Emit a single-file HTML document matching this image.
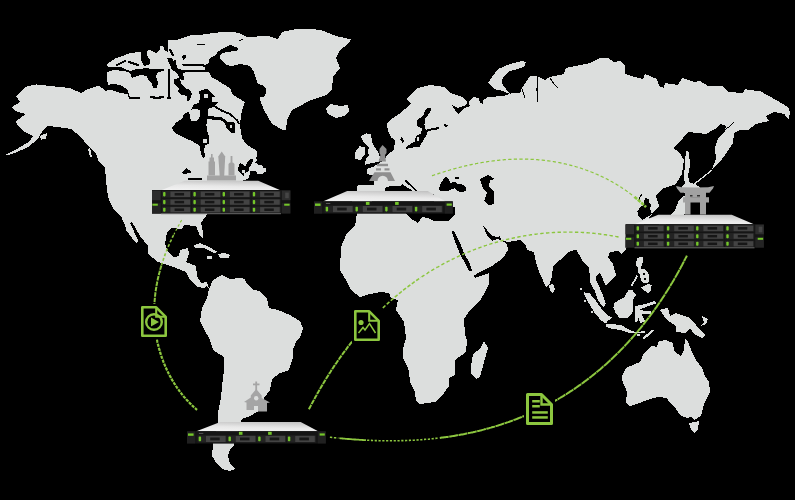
<!DOCTYPE html>
<html><head><meta charset="utf-8"><title>map</title>
<style>
html,body{margin:0;padding:0;background:#000;}
body{width:795px;height:500px;overflow:hidden;font-family:"Liberation Sans",sans-serif;}
svg{display:block;}
</style></head><body>
<svg width="795" height="500" viewBox="0 0 795 500" shape-rendering="crispEdges">
<rect width="795" height="500" fill="#000"/>
<path d="M25.0 87.0 L36.0 84.4 L60.0 87.0 L70.0 88.0 L81.0 93.0 L88.0 89.0 L99.0 85.6 L106.0 91.0 L108.0 89.0 L107.0 74.0 L107.0 64.0 L115.0 58.6 L125.0 55.0 L130.0 53.0 L140.0 52.0 L146.0 51.0 L150.0 50.0 L156.0 53.0 L160.0 50.0 L160.4 46.0 L163.4 46.0 L164.0 50.0 L168.0 52.0 L168.4 40.0 L178.0 39.5 L185.0 37.0 L190.0 35.5 L200.0 35.0 L210.0 33.5 L222.0 32.0 L234.4 32.0 L240.4 33.5 L245.5 36.0 L243.0 42.0 L238.4 48.0 L230.4 45.0 L224.3 47.6 L218.3 51.6 L214.3 56.0 L209.2 58.7 L208.7 63.0 L205.7 65.0 L205.2 70.0 L209.7 73.0 L211.2 77.0 L217.3 80.0 L220.0 82.0 L230.0 88.0 L233.0 95.0 L245.0 102.0 L242.0 110.0 L240.0 123.0 L240.0 126.0 L242.0 138.0 L247.0 145.0 L254.0 149.0 L257.0 152.0 L257.0 156.0 L255.0 158.0 L257.5 160.0 L255.0 162.5 L258.0 164.5 L262.0 165.0 L263.0 167.5 L266.0 168.5 L266.5 171.0 L263.0 173.5 L257.0 173.5 L256.0 171.5 L250.0 171.0 L249.5 175.0 L248.5 178.5 L244.0 180.0 L230.0 185.0 L215.0 200.0 L206.0 216.0 L201.0 223.0 L203.0 232.0 L203.0 239.0 L200.0 236.0 L196.0 226.0 L184.0 225.0 L182.0 229.0 L172.0 228.0 L167.0 232.0 L165.0 244.0 L168.0 252.0 L174.0 257.0 L179.0 256.0 L180.0 250.0 L188.0 248.0 L189.0 254.0 L186.0 262.0 L196.0 266.0 L197.0 276.0 L201.0 283.0 L207.0 282.0 L209.0 289.0 L207.0 286.0 L204.0 288.0 L198.0 287.0 L190.0 280.0 L186.0 272.0 L176.0 268.0 L162.0 263.0 L158.0 262.0 L148.0 254.0 L148.0 246.0 L140.0 236.0 L132.0 222.0 L130.0 223.0 L138.0 240.0 L137.0 244.0 L132.0 238.0 L126.0 230.0 L126.0 228.0 L121.0 216.0 L114.0 210.0 L109.0 200.0 L107.0 190.0 L106.0 180.0 L105.0 168.0 L99.0 162.0 L96.0 154.0 L88.0 146.0 L80.0 136.0 L71.0 129.0 L58.0 127.0 L47.0 126.0 L43.0 130.0 L38.0 139.0 L28.0 147.0 L15.0 153.0 L6.0 155.6 L5.0 155.0 L17.0 149.0 L30.0 141.0 L33.0 136.0 L25.0 132.0 L17.0 125.0 L16.0 121.0 L26.0 114.0 L15.0 111.0 L12.0 107.0 L20.0 102.0 L16.0 96.0Z M40.0 136.0 L47.0 133.0 L46.0 139.0 L41.0 139.6Z M88.0 149.0 L90.0 148.0 L92.0 157.0 L90.0 157.0Z M247.0 37.0 L268.0 36.0 L278.0 39.0 L282.0 32.0 L296.0 29.0 L320.0 29.6 L336.0 36.0 L351.0 39.4 L348.0 44.0 L340.0 50.0 L336.0 58.0 L340.0 68.0 L333.0 77.0 L332.0 89.0 L326.0 95.0 L309.0 101.0 L300.0 106.0 L292.0 110.0 L287.0 120.0 L286.0 130.0 L283.0 130.0 L272.0 124.0 L264.0 110.0 L260.0 100.0 L260.0 97.0 L264.0 96.5 L266.5 93.0 L266.0 88.0 L262.0 85.0 L258.0 84.0 L254.0 72.0 L250.0 66.0 L240.4 64.0 L232.4 66.0 L226.3 65.0 L220.3 59.0 L219.8 55.6 L222.3 53.0 L230.4 51.6 L237.4 50.6 L238.4 48.0 L243.0 42.0 L245.5 36.0Z M326.0 108.0 L330.0 104.0 L340.0 106.0 L348.0 105.0 L349.0 111.0 L344.0 116.0 L336.0 118.0 L328.0 114.0Z M209.0 289.0 L213.0 280.0 L222.0 275.0 L230.0 279.0 L240.0 278.0 L245.0 279.0 L246.0 283.0 L254.0 290.0 L260.0 291.0 L267.0 299.0 L269.0 308.0 L278.0 310.0 L290.0 315.0 L300.0 321.0 L303.0 328.0 L300.0 338.0 L297.0 340.0 L293.0 349.0 L293.0 358.0 L289.0 370.0 L280.0 373.0 L272.0 379.0 L270.0 390.0 L264.0 398.0 L262.0 409.0 L250.0 416.0 L242.0 419.0 L241.0 422.0 L234.0 445.0 L230.0 449.0 L228.0 456.0 L230.0 464.0 L235.0 469.0 L230.0 471.0 L222.0 469.0 L217.0 464.0 L212.0 456.0 L213.0 445.0 L218.0 422.0 L218.0 412.0 L221.0 398.0 L222.0 386.0 L224.0 370.0 L224.0 357.0 L213.0 350.0 L210.0 340.0 L209.0 338.0 L204.0 329.0 L200.0 321.0 L202.0 308.0 L207.0 298.0Z M193.0 246.0 L200.0 243.0 L209.0 247.0 L218.0 252.0 L214.0 253.0 L204.0 248.0 L195.0 248.0Z M218.0 254.0 L224.0 253.0 L230.0 255.0 L229.0 258.0 L220.0 258.0Z M207.0 256.0 L212.0 256.0 L212.0 259.0 L207.0 259.0Z M357.0 213.0 L406.0 213.0 L410.0 218.0 L418.0 223.0 L422.0 217.0 L428.0 218.0 L434.0 221.0 L448.0 221.0 L454.0 215.0 L460.0 213.0 L470.0 240.0 L475.0 278.0 L489.0 272.0 L489.0 284.0 L484.0 294.0 L479.0 302.0 L470.0 310.0 L464.0 319.0 L465.0 334.0 L467.0 340.0 L466.0 352.0 L455.0 360.0 L455.0 375.0 L449.0 378.0 L449.0 386.0 L444.0 393.0 L435.0 402.0 L420.0 404.0 L416.0 401.0 L415.0 392.0 L410.0 382.0 L409.0 372.0 L408.0 368.0 L403.0 358.0 L403.0 349.0 L406.0 338.0 L404.0 322.0 L396.0 310.0 L398.0 300.0 L391.0 298.0 L389.0 293.0 L381.0 292.0 L370.0 294.0 L360.0 297.0 L351.0 290.0 L346.0 280.0 L340.0 270.0 L341.0 247.0 L347.0 233.0 L355.0 226.0Z M484.0 341.0 L488.0 348.0 L484.0 362.0 L480.0 377.0 L476.0 379.0 L471.0 374.0 L471.0 366.0 L473.0 354.0 L480.0 349.0Z M387.0 124.0 L390.0 120.0 L399.0 114.0 L411.0 104.0 L407.0 99.0 L410.0 95.0 L418.0 88.0 L430.0 85.0 L444.0 87.0 L450.0 93.0 L462.0 97.0 L468.0 103.0 L473.0 97.0 L479.0 98.0 L481.0 102.0 L488.0 97.0 L504.0 96.0 L512.0 93.0 L520.0 93.0 L522.0 88.0 L530.0 76.0 L534.0 76.0 L539.0 77.0 L545.0 80.0 L550.0 77.0 L554.0 76.0 L564.0 74.0 L566.0 68.0 L590.0 63.0 L600.0 58.0 L608.0 58.0 L614.0 62.0 L620.0 61.0 L625.0 65.0 L625.0 74.0 L635.0 77.0 L643.0 79.0 L645.0 74.0 L657.0 79.0 L659.0 86.0 L664.0 88.0 L665.0 83.0 L678.0 85.0 L682.0 78.0 L694.0 82.0 L700.0 81.0 L708.0 86.0 L722.0 86.0 L729.0 92.0 L743.0 93.0 L745.0 89.0 L748.0 90.0 L760.0 91.0 L769.0 96.0 L776.0 100.0 L788.0 107.0 L790.0 112.0 L789.0 119.0 L786.0 117.0 L785.0 114.0 L774.0 112.0 L766.0 116.0 L769.0 121.0 L756.0 124.0 L748.0 130.0 L740.0 130.0 L734.0 133.0 L733.0 143.0 L727.0 152.0 L720.0 162.0 L712.0 169.0 L716.0 159.0 L715.0 148.0 L718.0 138.0 L725.0 131.0 L726.0 126.0 L721.0 124.0 L715.0 129.0 L706.0 134.0 L688.0 132.0 L679.0 143.0 L673.0 148.0 L679.0 152.0 L684.0 160.0 L682.0 174.0 L676.0 184.0 L662.0 189.0 L656.0 196.0 L659.0 206.0 L652.0 214.0 L640.0 230.0 L626.0 249.0 L622.0 254.0 L618.0 251.0 L610.0 252.0 L608.0 257.0 L613.0 264.0 L616.0 275.0 L606.0 286.0 L600.0 273.0 L596.0 276.0 L595.8 280.0 L599.7 287.8 L603.0 295.6 L605.6 303.4 L605.0 306.0 L603.0 306.7 L601.0 304.7 L597.0 298.0 L594.5 290.4 L590.6 284.0 L589.0 268.0 L582.0 260.0 L576.0 249.0 L575.0 250.0 L568.0 252.0 L560.0 260.0 L553.0 266.0 L552.0 276.0 L550.0 283.0 L546.0 287.0 L540.0 274.0 L536.0 262.0 L534.0 252.0 L527.0 250.0 L526.0 245.0 L520.0 240.0 L508.0 242.0 L501.0 240.0 L507.0 244.0 L508.0 250.0 L503.0 258.0 L492.0 266.0 L480.0 272.0 L473.0 276.0 L470.0 270.0 L466.0 262.0 L462.0 253.0 L458.0 243.0 L454.0 232.0 L453.0 225.0 L455.0 216.0 L455.0 207.0 L440.0 206.0 L432.0 200.0 L425.0 196.0 L420.0 193.0 L416.0 193.0 L410.0 189.0 L405.0 186.0 L402.0 184.0 L400.0 186.0 L392.0 186.0 L386.0 187.0 L385.0 190.0 L380.0 196.0 L376.0 200.0 L366.0 204.0 L356.0 206.0 L350.0 200.0 L352.0 195.0 L357.0 191.0 L357.6 185.0 L374.4 184.5 L374.4 178.0 L373.0 175.4 L367.4 174.0 L366.7 169.0 L373.0 167.0 L378.0 164.0 L384.0 160.0 L388.0 154.0 L394.0 150.0 L395.0 140.0 L390.8 137.0 L387.8 131.0Z M506.0 89.0 L501.5 83.0 L503.0 77.0 L509.0 71.5 L524.0 67.0 L526.0 62.0 L522.0 61.0 L510.0 64.0 L498.0 69.0 L492.0 77.0 L488.0 83.0 L494.0 89.0 L503.0 91.0 L510.0 94.0Z M360.4 136.2 L366.0 133.4 L371.0 134.0 L371.6 139.0 L373.0 144.6 L378.0 151.6 L380.0 158.0 L378.6 162.0 L372.0 163.0 L364.6 165.0 L366.0 159.0 L369.0 155.0 L367.4 152.0 L369.0 148.0 L366.0 145.0 L363.0 141.0Z M355.5 151.6 L359.7 146.0 L364.6 147.4 L364.6 154.4 L360.4 160.0 L354.8 158.6Z M686.0 151.0 L689.0 152.0 L690.0 166.0 L688.0 176.0 L690.0 184.0 L685.0 184.0 L684.0 178.0 L685.0 162.0Z M659.0 341.0 L666.0 340.0 L673.0 343.0 L674.0 351.0 L681.0 356.0 L684.0 350.0 L685.0 339.0 L688.0 342.0 L692.0 352.0 L696.0 360.0 L702.0 368.0 L705.0 376.0 L709.0 382.0 L710.0 392.0 L709.0 394.0 L704.0 404.0 L701.0 416.0 L694.0 420.0 L691.0 417.0 L687.0 418.0 L680.0 415.0 L676.0 409.0 L670.0 403.0 L667.0 398.0 L658.0 397.0 L647.0 400.0 L637.0 404.0 L630.0 406.0 L626.0 403.0 L627.0 392.0 L622.0 380.0 L622.0 376.0 L626.0 368.0 L640.0 362.0 L644.0 353.0 L652.0 346.0 L657.0 347.0Z M689.0 423.0 L699.0 421.0 L698.0 430.0 L694.0 433.0 L691.0 429.0Z M583.5 292.4 L589.3 293.0 L595.8 300.8 L602.3 310.0 L608.2 315.8 L612.7 317.7 L608.2 320.3 L606.2 323.6 L601.0 320.3 L594.5 312.5 L588.0 302.0Z M605.6 324.2 L614.0 324.2 L621.8 325.5 L629.6 330.0 L636.0 332.0 L645.0 331.0 L645.0 332.5 L631.0 333.3 L620.5 330.0 L611.4 328.8 L606.2 326.8Z M642.6 337.5 L652.5 329.5 L654.0 331.0 L644.0 339.5Z M614.0 303.4 L618.0 300.8 L624.4 297.0 L628.3 290.4 L632.2 289.8 L636.1 295.0 L632.9 299.5 L633.5 306.0 L632.2 313.8 L627.0 318.4 L619.2 317.7 L615.3 312.5 L613.4 307.3Z M635.5 306.0 L647.8 303.4 L655.0 301.0 L656.0 303.5 L647.2 306.5 L640.0 309.5 L645.2 311.2 L651.0 311.0 L651.0 313.5 L643.9 313.8 L641.5 314.5 L645.2 321.6 L640.5 323.0 L638.5 318.0 L636.8 322.5 L634.5 321.0 L635.0 312.0Z M661.0 309.0 L668.0 308.0 L670.0 316.0 L664.0 314.0Z M660.0 310.0 L668.0 310.0 L670.0 316.0 L676.0 313.0 L690.0 318.0 L696.0 325.0 L705.0 335.0 L702.0 338.0 L694.0 334.0 L690.0 328.0 L686.0 333.0 L676.0 332.0 L676.0 326.0 L670.0 322.0 L666.0 319.0Z M702.0 316.0 L708.0 319.0 L706.0 324.0 L700.0 326.0 L704.0 322.0Z M637.8 257.6 L642.6 257.0 L642.6 263.0 L640.8 268.4 L644.4 269.0 L647.4 271.4 L649.2 276.2 L648.6 282.2 L644.4 283.4 L640.8 281.0 L640.2 275.0 L637.8 272.0 L638.4 268.4 L635.4 264.2Z M640.8 287.6 L648.0 284.0 L651.6 285.2 L651.0 291.2 L648.0 293.0 L644.4 290.6Z M630.6 285.8 L636.6 275.0 L637.8 276.2 L632.4 286.4Z M549.0 285.0 L553.0 284.0 L555.0 289.0 L553.0 293.0 L550.0 291.0Z M682.0 186.0 L688.0 182.0 L695.0 184.0 L700.0 187.0 L698.0 194.0 L688.0 196.0 L683.0 192.0Z M684.0 196.0 L690.0 200.0 L688.0 210.0 L680.0 218.0 L668.0 224.0 L660.0 226.0 L658.0 222.0 L668.0 218.0 L675.0 210.0 L679.0 200.0Z M636.5 333.5 L640.0 333.5 L640.0 335.5 L636.5 335.5Z M579.5 288.0 L581.5 288.0 L581.5 290.0 L579.5 290.0Z M584.0 299.5 L586.0 299.5 L586.0 301.5 L584.0 301.5Z M590.5 311.0 L592.5 311.0 L592.5 313.0 L590.5 313.0Z" fill="#dcdedd"/>
<path d="M172.0 128.2 L176.0 122.6 L182.4 118.6 L184.0 113.8 L188.8 111.4 L192.0 108.0 L194.0 104.5 L199.0 103.0 L200.0 98.0 L199.2 91.4 L201.6 89.8 L208.0 89.0 L211.2 93.0 L216.0 97.0 L217.6 102.6 L214.4 106.6 L208.0 109.0 L208.0 117.0 L206.4 125.0 L207.2 131.4 L209.6 137.8 L208.8 143.4 L204.8 145.8 L204.0 152.2 L205.6 156.2 L203.2 157.8 L200.8 153.8 L200.0 145.8 L192.0 141.0 L180.8 136.2 L174.4 132.2Z M428.0 107.6 L431.6 108.8 L428.0 115.4 L425.0 119.0 L424.4 125.0 L425.6 129.8 L438.8 126.8 L439.4 129.2 L428.0 131.0 L426.8 134.6 L423.2 140.6 L419.6 146.6 L411.2 147.8 L406.4 149.0 L405.8 147.2 L410.0 144.2 L414.8 141.8 L416.0 135.8 L420.8 133.4 L422.0 128.6 L417.2 126.2 L417.2 120.2 L423.2 115.4 L425.6 109.4Z M401.6 137.0 L404.0 140.6 L402.8 143.0 L400.4 139.4Z M444.0 124.0 L447.7 125.0 L447.0 127.4 L445.0 127.0Z M468.0 100.0 L470.0 106.0 L463.0 109.0 L458.0 114.0 L455.0 110.0 L452.0 105.0 L458.0 108.0 L466.0 105.0Z M438.9 188.3 L441.1 183.0 L444.9 177.0 L447.9 177.7 L450.2 183.0 L455.5 181.5 L457.7 183.8 L461.5 183.8 L466.0 187.5 L466.0 191.3 L459.2 192.0 L454.7 188.3 L446.4 191.3 L440.4 191.3Z M454.7 177.4 L459.2 177.4 L459.2 178.8 L454.7 178.8Z M480.0 179.0 L488.0 175.0 L495.0 179.0 L490.0 180.0 L489.0 186.0 L494.0 192.0 L494.0 204.0 L489.0 205.0 L484.0 201.0 L487.0 193.0 L483.0 188.0Z M483.0 226.0 L487.0 230.0 L492.0 236.0 L498.0 237.0 L500.0 235.0 L501.0 240.0 L497.0 239.0 L492.0 241.0 L487.0 235.0Z M451.5 231.0 L454.0 231.0 L460.0 243.0 L464.0 253.0 L470.0 264.0 L472.0 271.0 L469.0 271.5 L466.0 265.0 L460.0 254.0 L456.0 244.0Z M473.0 276.0 L489.0 269.0 L489.0 273.0 L475.0 278.0Z M637.3 211.4 L640.8 206.5 L644.3 205.0 L643.6 201.6 L645.7 198.0 L648.5 198.8 L649.2 203.0 L651.3 205.0 L650.0 208.6 L652.0 214.0 L645.0 218.4 L642.2 219.8 L638.7 216.3Z M104.0 84.0 L107.0 85.0 L113.0 84.0 L120.0 85.0 L127.0 89.0 L130.0 97.0 L140.0 97.0 L140.0 99.0 L129.0 99.0 L128.0 94.0 L120.0 93.0 L110.0 89.5 L107.0 90.5 L104.0 88.0Z M105.0 66.0 L111.0 67.0 L120.0 67.0 L123.0 68.0 L130.0 71.0 L137.0 69.0 L148.0 68.0 L150.0 69.0 L164.0 69.5 L164.0 71.0 L158.0 72.0 L156.0 76.0 L158.0 82.0 L157.0 88.0 L153.0 88.0 L152.0 84.0 L148.0 80.0 L147.0 76.0 L140.0 75.0 L132.0 78.0 L130.0 73.0 L125.0 71.0 L113.0 70.0 L107.0 72.0 L105.0 70.0Z M141.5 50.0 L147.0 49.0 L147.5 56.0 L150.0 60.0 L150.0 64.0 L144.0 66.0 L141.0 60.0Z M182.0 56.0 L186.0 54.5 L186.0 58.0 L183.0 60.0Z M167.0 58.0 L172.0 58.0 L177.0 68.0 L182.0 70.0 L207.0 70.0 L207.0 71.6 L183.0 72.6 L184.0 80.0 L181.0 80.0 L176.0 72.0 L172.0 70.0Z M174.0 79.0 L180.0 78.0 L181.0 83.0 L185.0 88.0 L190.0 90.0 L192.0 94.0 L190.0 100.0 L187.0 101.0 L187.0 96.0 L182.0 95.0 L178.0 92.0 L179.0 89.0 L174.0 83.0Z M208.0 116.0 L212.0 116.2 L222.4 117.5 L227.2 122.0 L235.0 122.6 L235.2 133.0 L231.0 133.0 L226.4 128.0 L225.0 123.0 L221.0 120.5 L211.0 119.4 L208.0 119.0Z M182.0 172.0 L186.0 168.0 L188.0 170.0 L191.0 171.0 L191.0 173.0 L183.0 174.0Z M188.0 177.5 L202.0 177.5 L202.0 179.5 L188.0 179.5Z M479.0 99.0 L482.0 98.0 L483.0 104.0 L480.0 103.0Z M643.0 273.0 L645.0 273.0 L645.0 275.0 L643.0 275.0Z M644.0 278.0 L646.0 278.0 L646.0 279.5 L644.0 279.5Z M431.3 193.8 L434.1 193.8 L434.1 197.3 L431.3 197.3Z M238.0 168.0 L240.0 163.0 L243.5 164.5 L245.0 166.5 L249.0 160.0 L252.5 158.5 L253.5 160.0 L250.0 166.5 L248.5 168.5 L249.0 170.5 L247.0 172.0 L244.0 173.0 L244.0 176.0 L241.5 174.0 L238.0 171.0Z" fill="#000"/>
<polyline points="641.3,195.0 639.5,198.0 639.0,201.0" fill="none" stroke="#000" stroke-width="1.2" stroke-linejoin="round" stroke-linecap="round"/><polyline points="169.0,70.0 169.4,83.0 169.0,96.0" fill="none" stroke="#000" stroke-width="1.8" stroke-linejoin="round" stroke-linecap="round"/><polyline points="151.0,97.0 157.0,98.0 163.0,97.0" fill="none" stroke="#000" stroke-width="2.4" stroke-linejoin="round" stroke-linecap="round"/><polyline points="167.5,98.0 170.0,98.0" fill="none" stroke="#000" stroke-width="2.0" stroke-linejoin="round" stroke-linecap="round"/><polyline points="117.0,65.0 125.0,61.0" fill="none" stroke="#000" stroke-width="2.0" stroke-linejoin="round" stroke-linecap="round"/><polyline points="129.0,62.0 138.0,65.0" fill="none" stroke="#000" stroke-width="2.2" stroke-linejoin="round" stroke-linecap="round"/><polyline points="183.0,64.5 202.0,65.2 206.0,66.0" fill="none" stroke="#000" stroke-width="2.0" stroke-linejoin="round" stroke-linecap="round"/><polyline points="170.0,50.0 173.0,55.0" fill="none" stroke="#000" stroke-width="2.2" stroke-linejoin="round" stroke-linecap="round"/><polyline points="175.0,61.0 176.0,71.0" fill="none" stroke="#000" stroke-width="2.2" stroke-linejoin="round" stroke-linecap="round"/><polyline points="197.0,44.5 205.0,44.5" fill="none" stroke="#000" stroke-width="1.0" stroke-linejoin="round" stroke-linecap="round"/><polyline points="214.0,106.0 221.6,110.6 230.0,114.0 236.8,120.0 239.0,123.4" fill="none" stroke="#000" stroke-width="1.8" stroke-linejoin="round" stroke-linecap="round"/><polyline points="405.5,180.5 409.0,184.0 413.0,187.5 416.0,190.5" fill="none" stroke="#000" stroke-width="1.6" stroke-linejoin="round" stroke-linecap="round"/><polyline points="724.0,130.0 729.0,127.0 733.5,122.5" fill="none" stroke="#000" stroke-width="1.0" stroke-linejoin="round" stroke-linecap="round"/><polyline points="537.5,77.0 537.0,90.0 538.0,102.0" fill="none" stroke="#000" stroke-width="1.1" stroke-linejoin="round" stroke-linecap="round"/><polyline points="550.0,78.0 554.0,84.0 558.0,88.0" fill="none" stroke="#000" stroke-width="1.1" stroke-linejoin="round" stroke-linecap="round"/><polyline points="522.0,89.0 525.0,98.0" fill="none" stroke="#000" stroke-width="1.2" stroke-linejoin="round" stroke-linecap="round"/><polyline points="239.5,40.5 243.0,39.2" fill="none" stroke="#000" stroke-width="1.0" stroke-linejoin="round" stroke-linecap="round"/>
<path d="M416.5 137.0 L419.0 136.5 L419.0 141.0 L417.0 141.0Z M204.0 93.8 L208.0 93.8 L208.0 97.8 L204.0 97.8Z M212.0 97.5 L216.5 97.0 L216.8 101.8 L212.5 101.8Z M203.2 138.6 L207.2 138.6 L207.2 143.4 L203.2 143.4Z M230.0 125.0 L232.0 125.0 L232.0 128.0 L230.0 128.0Z M188.8 111.0 L194.0 108.5 L200.0 110.0 L200.5 116.0 L197.0 121.0 L191.0 121.5Z M242.0 170.0 L245.0 170.0 L245.0 172.6 L242.0 172.6Z" fill="#dcdedd"/>
<polyline points="712.0,170.0 702.0,178.0 693.0,185.0" fill="none" stroke="#dcdedd" stroke-width="1.3" stroke-linejoin="round" stroke-linecap="round"/>
<g shape-rendering="geometricPrecision">
<defs>
<linearGradient id="tf" x1="0.3" y1="1.2" x2="0.7" y2="-0.2"><stop offset="0" stop-color="#f6f6f6"/><stop offset="0.45" stop-color="#e8e8e8"/><stop offset="0.8" stop-color="#cacaca"/><stop offset="1" stop-color="#b4b4b4"/></linearGradient>
</defs>
<path d="M181.7 220.1 L181.4 220.5 L181.1 221.0 L180.9 221.4 L180.6 221.9 L180.4 222.3 L180.1 222.8 L179.9 223.2 L179.6 223.7 L179.4 224.1 L179.1 224.6 L178.9 225.0 L178.6 225.5 L178.4 225.9 L178.1 226.4 L177.9 226.8 L177.6 227.3 L177.4 227.7 L177.1 228.2 L176.9 228.6 L176.6 229.1 L176.4 229.6 L176.2 230.0 L175.9 230.5 L175.7 230.9 L175.4 231.4 L175.2 231.9 L175.0 232.3 L174.7 232.8 L174.5 233.2 L174.3 233.7 L174.0 234.2 L173.8 234.6" fill="none" stroke="#8cc63f" stroke-width="1.20" stroke-dasharray="2.6 2.2" opacity="1.00"/><path d="M173.6 235.1 L173.3 235.6 L173.1 236.0 L172.9 236.5 L172.6 237.0 L172.4 237.4 L172.2 237.9 L172.0 238.4 L171.8 238.8 L171.5 239.3 L171.3 239.8 L171.1 240.3 L170.9 240.7 L170.7 241.2 L170.4 241.7 L170.2 242.1 L170.0 242.6 L169.8 243.1 L169.6 243.6 L169.4 244.0 L169.2 244.5 L169.0 245.0 L168.8 245.5 L168.5 246.0 L168.3 246.4 L168.1 246.9 L167.9 247.4 L167.7 247.9 L167.5 248.4 L167.3 248.8 L167.1 249.3 L166.9 249.8 L166.8 250.3 L166.6 250.8 L166.4 251.2 L166.2 251.7 L166.0 252.2 L165.8 252.7 L165.6 253.2 L165.4 253.7 L165.2 254.2 L165.1 254.6 L164.9 255.1 L164.7 255.6 L164.5 256.1 L164.3 256.6 L164.2 257.1 L164.0 257.6 L163.8 258.1 L163.6 258.6 L163.5 259.1 L163.3 259.6 L163.1 260.0 L163.0 260.5 L162.8 261.0 L162.6 261.5 L162.5 262.0 L162.3 262.5 L162.2 263.0 L162.0 263.5 L161.8 264.0 L161.7 264.5 L161.5 265.0" fill="none" stroke="#8cc63f" stroke-width="1.60" stroke-dasharray="3 2" opacity="1.00"/><path d="M161.4 265.5 L161.2 266.0 L161.1 266.5 L160.9 267.0 L160.8 267.5 L160.6 268.0 L160.5 268.5 L160.3 269.0 L160.2 269.5 L160.1 270.0 L159.9 270.5 L159.8 271.0 L159.7 271.5 L159.5 272.0 L159.4 272.5 L159.3 273.0 L159.1 273.5 L159.0 274.0 L158.9 274.5 L158.8 275.0 L158.6 275.5 L158.5 276.0 L158.4 276.5 L158.3 277.1 L158.2 277.6 L158.0 278.1 L157.9 278.6 L157.8 279.1 L157.7 279.6 L157.6 280.1 L157.5 280.6 L157.4 281.1 L157.3 281.6 L157.2 282.1 L157.1 282.6 L157.0 283.2 L156.9 283.7 L156.8 284.2 L156.7 284.7 L156.6 285.2 L156.5 285.7 L156.4 286.2 L156.3 286.7 L156.3 287.3 L156.2 287.8 L156.1 288.3 L156.0 288.8 L155.9 289.3 L155.9 289.8 L155.8 290.3 L155.7 290.8 L155.6 291.4 L155.6 291.9 L155.5 292.4 L155.4 292.9 L155.4 293.4 L155.3 293.9 L155.2 294.5 L155.2 295.0 L155.1 295.5 L155.1 296.0 L155.0 296.5 L155.0 297.0 L154.9 297.6 L154.9 298.1 L154.8 298.6 L154.8 299.1 L154.7 299.6 L154.7 300.1 L154.6 300.7 L154.6 301.2 L154.6 301.7 L154.5 302.2 L154.5 302.7 L154.5 303.2 L154.4 303.8 L154.4 304.3 L154.4 304.8 L154.4 305.3 L154.3 305.8 L154.3 306.4 L154.3 306.9 L154.3 307.4 L154.3 307.9 L154.3 308.4 L154.3 309.0 L154.2 309.5 L154.2 310.0" fill="none" stroke="#8cc63f" stroke-width="2.00" stroke-dasharray="4.5 1" opacity="1.00"/><path d="M154.2 310.5 L154.2 311.0 L154.2 311.5 L154.2 312.1 L154.2 312.6 L154.2 313.1 L154.2 313.6 L154.2 314.1 L154.2 314.7 L154.3 315.2 L154.3 315.7 L154.3 316.2 L154.3 316.7 L154.3 317.3 L154.3 317.8 L154.4 318.3 L154.4 318.8 L154.4 319.3 L154.4 319.8 L154.5 320.4 L154.5 320.9 L154.5 321.4 L154.6 321.9 L154.6 322.4 L154.6 323.0 L154.7 323.5 L154.7 324.0 L154.8 324.5 L154.8 325.0 L154.9 325.5 L154.9 326.1 L155.0 326.6 L155.0 327.1 L155.1 327.6 L155.1 328.1 L155.2 328.6 L155.3 329.2 L155.3 329.7 L155.4 330.2 L155.5 330.7 L155.5 331.2 L155.6 331.7 L155.7 332.2 L155.7 332.8 L155.8 333.3 L155.9 333.8 L156.0 334.3 L156.1 334.8 L156.2 335.3 L156.2 335.8 L156.3 336.3 L156.4 336.9 L156.5 337.4 L156.6 337.9 L156.7 338.4 L156.8 338.9 L156.9 339.4 L157.0 339.9 L157.1 340.4 L157.2 340.9 L157.3 341.4 L157.4 342.0 L157.5 342.5 L157.7 343.0 L157.8 343.5 L157.9 344.0 L158.0 344.5 L158.1 345.0 L158.3 345.5 L158.4 346.0 L158.5 346.5 L158.6 347.0 L158.8 347.5 L158.9 348.0 L159.0 348.5 L159.2 349.0 L159.3 349.5 L159.5 350.0 L159.6 350.5 L159.7 351.0 L159.9 351.5 L160.0 352.0 L160.2 352.5 L160.3 353.0 L160.5 353.5 L160.7 354.0 L160.8 354.5 L161.0 355.0 L161.1 355.5 L161.3 356.0 L161.5 356.5 L161.6 357.0 L161.8 357.5 L162.0 357.9 L162.2 358.4 L162.3 358.9 L162.5 359.4 L162.7 359.9 L162.9 360.4 L163.1 360.9 L163.2 361.4 L163.4 361.8 L163.6 362.3 L163.8 362.8 L164.0 363.3 L164.2 363.8 L164.4 364.3 L164.6 364.7 L164.8 365.2 L165.0 365.7 L165.2 366.2 L165.4 366.7 L165.6 367.1 L165.8 367.6 L166.0 368.1 L166.3 368.6 L166.5 369.0 L166.7 369.5 L166.9 370.0 L167.1 370.4 L167.4 370.9 L167.6 371.4 L167.8 371.8 L168.0 372.3 L168.3 372.8 L168.5 373.2 L168.7 373.7 L169.0 374.2 L169.2 374.6 L169.5 375.1 L169.7 375.6 L170.0 376.0 L170.2 376.5 L170.5 376.9 L170.7 377.4 L171.0 377.8 L171.2 378.3 L171.5 378.7 L171.7 379.2 L172.0 379.6 L172.2 380.1 L172.5 380.5 L172.8 381.0 L173.0 381.4 L173.3 381.9 L173.6 382.3 L173.9 382.8 L174.1 383.2 L174.4 383.7 L174.7 384.1 L175.0 384.5 L175.3 385.0 L175.5 385.4 L175.8 385.8 L176.1 386.3 L176.4 386.7 L176.7 387.1 L177.0 387.6 L177.3 388.0 L177.6 388.4 L177.9 388.8 L178.2 389.3 L178.5 389.7 L178.8 390.1 L179.1 390.5 L179.4 390.9 L179.7 391.4 L180.0 391.8 L180.3 392.2 L180.7 392.6 L181.0 393.0 L181.3 393.4 L181.6 393.8 L181.9 394.2 L182.3 394.7 L182.6 395.1 L182.9 395.5 L183.3 395.9 L183.6 396.3 L183.9 396.7 L184.3 397.1 L184.6 397.5 L184.9 397.8 L185.3 398.2 L185.6 398.6 L186.0 399.0 L186.3 399.4 L186.6 399.8 L187.0 400.2 L187.4 400.6 L187.7 400.9 L188.1 401.3 L188.4 401.7 L188.8 402.1 L189.1 402.4 L189.5 402.8 L189.9 403.2 L190.2 403.6 L190.6 403.9 L191.0 404.3 L191.3 404.7 L191.7 405.0 L192.1 405.4 L192.4 405.7 L192.8 406.1 L193.2 406.5 L193.6 406.8 L194.0 407.2 L194.3 407.5 L194.7 407.9 L195.1 408.2 L195.5 408.5 L195.9 408.9 L196.3 409.2 L196.7 409.6 L197.1 409.9" fill="none" stroke="#8cc63f" stroke-width="2.20" stroke-dasharray="3.2 1" opacity="1.00"/>
<path d="M308.9 409.3 L309.3 408.5 L309.8 407.6 L310.2 406.8 L310.7 405.9 L311.1 405.0 L311.6 404.2 L312.0 403.3 L312.5 402.5 L312.9 401.6 L313.4 400.8 L313.9 399.9 L314.3 399.1 L314.8 398.2 L315.2 397.4 L315.7 396.5 L316.2 395.7 L316.7 394.8 L317.1 394.0 L317.6 393.1 L318.1 392.3 L318.6 391.5 L319.0 390.6 L319.5 389.8 L320.0 388.9 L320.5 388.1 L321.0 387.2 L321.5 386.4 L322.0 385.6 L322.5 384.7 L323.0 383.9 L323.5 383.1 L324.0 382.2 L324.5 381.4 L325.0 380.6 L325.5 379.7 L326.0 378.9 L326.5 378.1 L327.0 377.2 L327.6 376.4 L328.1 375.6 L328.6 374.7 L329.1 373.9 L329.6 373.1 L330.2 372.3 L330.7 371.5 L331.2 370.6 L331.8 369.8 L332.3 369.0 L332.8 368.2 L333.4 367.4 L333.9 366.5 L334.5 365.7 L335.0 364.9 L335.5 364.1 L336.1 363.3 L336.7 362.5 L337.2 361.7 L337.8 360.9 L338.3 360.1 L338.9 359.3 L339.4 358.5 L340.0 357.7 L340.6 356.9 L341.1 356.1 L341.7 355.3 L342.3 354.5 L342.9 353.7 L343.4 352.9 L344.0 352.1 L344.6 351.3 L345.2 350.5 L345.8 349.8 L346.4 349.0 L347.0 348.2 L347.5 347.4 L348.1 346.6 L348.7 345.9 L349.3 345.1 L349.9 344.3 L350.5 343.5 L351.1 342.8 L351.8 342.0 L352.4 341.2 L353.0 340.5 L353.6 339.7 L354.2 338.9 L354.8 338.2 L355.4 337.4 L356.1 336.7 L356.7 335.9 L357.3 335.1 L358.0 334.4 L358.6 333.6 L359.2 332.9 L359.9 332.2" fill="none" stroke="#8cc63f" stroke-width="2.00" stroke-dasharray="5 0.8" opacity="1.00"/><path d="M360.5 331.4 L361.1 330.7 L361.8 329.9 L362.4 329.2 L363.1 328.5 L363.7 327.7 L364.4 327.0 L365.0 326.3 L365.7 325.5 L366.3 324.8 L367.0 324.1 L367.6 323.4 L368.3 322.6 L369.0 321.9 L369.6 321.2 L370.3 320.5 L371.0 319.8 L371.7 319.1 L372.3 318.4 L373.0 317.7 L373.7 317.0 L374.4 316.3 L375.1 315.6 L375.8 314.9 L376.4 314.2 L377.1 313.5 L377.8 312.8 L378.5 312.1 L379.2 311.4 L379.9 310.7 L380.6 310.0 L381.3 309.4 L382.0 308.7 L382.7 308.0 L383.5 307.3 L384.2 306.7 L384.9 306.0 L385.6 305.3 L386.3 304.7 L387.0 304.0 L387.8 303.4 L388.5 302.7 L389.2 302.1 L389.9 301.4 L390.7 300.8 L391.4 300.1 L392.1 299.5 L392.9 298.8 L393.6 298.2 L394.4 297.6 L395.1 296.9 L395.8 296.3 L396.6 295.7 L397.3 295.0 L398.1 294.4 L398.8 293.8 L399.6 293.2 L400.4 292.6 L401.1 292.0 L401.9 291.3 L402.6 290.7 L403.4 290.1 L404.2 289.5 L404.9 288.9 L405.7 288.3 L406.5 287.7 L407.3 287.1 L408.0 286.6 L408.8 286.0 L409.6 285.4 L410.4 284.8 L411.2 284.2 L412.0 283.7 L412.8 283.1 L413.5 282.5 L414.3 281.9 L415.1 281.4 L415.9 280.8 L416.7 280.3 L417.5 279.7 L418.3 279.2 L419.1 278.6 L419.9 278.1 L420.7 277.5" fill="none" stroke="#8cc63f" stroke-width="1.60" stroke-dasharray="3.6 1.8" opacity="1.00"/><path d="M421.6 277.0 L422.4 276.4 L423.2 275.9 L424.0 275.4 L424.8 274.8 L425.6 274.3 L426.5 273.8 L427.3 273.3 L428.1 272.7 L428.9 272.2 L429.8 271.7 L430.6 271.2 L431.4 270.7 L432.3 270.2 L433.1 269.7 L433.9 269.2 L434.8 268.7 L435.6 268.2 L436.5 267.7 L437.3 267.2 L438.1 266.8 L439.0 266.3 L439.8 265.8 L440.7 265.3 L441.5 264.9 L442.4 264.4 L443.3 263.9 L444.1 263.5 L445.0 263.0 L445.8 262.5 L446.7 262.1 L447.6 261.6 L448.4 261.2 L449.3 260.8 L450.2 260.3 L451.0 259.9 L451.9 259.5 L452.8 259.0 L453.7 258.6 L454.5 258.2 L455.4 257.7 L456.3 257.3 L457.2 256.9 L458.1 256.5 L458.9 256.1 L459.8 255.7 L460.7 255.3 L461.6 254.9 L462.5 254.5 L463.4 254.1 L464.3 253.7 L465.2 253.3 L466.1 253.0 L467.0 252.6 L467.9 252.2 L468.8 251.8 L469.7 251.5 L470.6 251.1 L471.5 250.7 L472.4 250.4 L473.3 250.0 L474.2 249.7 L475.1 249.3 L476.0 249.0 L476.9 248.6 L477.9 248.3 L478.8 248.0 L479.7 247.6 L480.6 247.3 L481.5 247.0 L482.5 246.6 L483.4 246.3 L484.3 246.0 L485.2 245.7 L486.2 245.4 L487.1 245.1 L488.0 244.8 L488.9 244.5 L489.9 244.2 L490.8 243.9 L491.7 243.6 L492.7 243.3 L493.6 243.1 L494.5 242.8 L495.5 242.5 L496.4 242.2 L497.4 242.0 L498.3 241.7 L499.2 241.4 L500.2 241.2 L501.1 240.9 L502.1 240.7 L503.0 240.4 L504.0 240.2 L504.9 240.0 L505.9 239.7 L506.8 239.5 L507.8 239.3 L508.7 239.0 L509.7 238.8 L510.6 238.6 L511.6 238.4 L512.5 238.2 L513.5 238.0 L514.4 237.8 L515.4 237.6 L516.3 237.4 L517.3 237.2 L518.3 237.0 L519.2 236.8 L520.2 236.6 L521.2 236.4 L522.1 236.3 L523.1 236.1 L524.0 235.9 L525.0 235.7 L526.0 235.6 L526.9 235.4 L527.9 235.3 L528.9 235.1 L529.8 235.0 L530.8 234.8 L531.8 234.7 L532.7 234.6 L533.7 234.4 L534.7 234.3 L535.7 234.2 L536.6 234.1 L537.6 233.9 L538.6 233.8 L539.5 233.7 L540.5 233.6 L541.5 233.5 L542.5 233.4 L543.4 233.3 L544.4 233.2 L545.4 233.1 L546.4 233.0 L547.3 233.0 L548.3 232.9 L549.3 232.8 L550.3 232.7 L551.3 232.7 L552.2 232.6 L553.2 232.5 L554.2 232.5 L555.2 232.4 L556.1 232.4 L557.1 232.3 L558.1 232.3 L559.1 232.3 L560.1 232.2 L561.0 232.2 L562.0 232.2 L563.0 232.2 L564.0 232.1 L565.0 232.1 L565.9 232.1 L566.9 232.1 L567.9 232.1 L568.9 232.1 L569.9 232.1 L570.8 232.1 L571.8 232.1 L572.8 232.1 L573.8 232.2 L574.8 232.2 L575.7 232.2 L576.7 232.2 L577.7 232.3 L578.7 232.3 L579.6 232.3 L580.6 232.4 L581.6 232.4 L582.6 232.5 L583.5 232.5 L584.5 232.6 L585.5 232.7 L586.5 232.7 L587.5 232.8 L588.4 232.9 L589.4 232.9 L590.4 233.0 L591.3 233.1 L592.3 233.2 L593.3 233.3 L594.3 233.4 L595.2 233.5 L596.2 233.6 L597.2 233.7 L598.1 233.8 L599.1 233.9 L600.1 234.0 L601.1 234.2 L602.0 234.3 L603.0 234.4 L604.0 234.6 L604.9 234.7 L605.9 234.8 L606.8 235.0 L607.8 235.1 L608.8 235.3 L609.7 235.4 L610.7 235.6 L611.6 235.7 L612.6 235.9 L613.6 236.1 L614.5 236.3 L615.5 236.4 L616.4 236.6 L617.4 236.8 L618.3 237.0 L619.3 237.2" fill="none" stroke="#8cc63f" stroke-width="1.40" stroke-dasharray="3.4 2.4" opacity="1.00"/>
<path d="M329.9 437.2 L331.0 437.3 L332.0 437.5 L333.1 437.6 L334.1 437.7 L335.2 437.8 L336.2 437.9 L337.3 438.0 L338.3 438.1" fill="none" stroke="#8cc63f" stroke-width="1.60" stroke-dasharray="2.4 1.6" opacity="1.00"/><path d="M339.4 438.2 L340.4 438.3 L341.5 438.4 L342.5 438.5 L343.6 438.6 L344.6 438.7 L345.7 438.8 L346.8 438.9 L347.8 439.0 L348.9 439.0 L350.0 439.1 L351.0 439.2 L352.1 439.3 L353.2 439.4 L354.2 439.5 L355.3 439.5 L356.4 439.6 L357.4 439.7 L358.5 439.7 L359.6 439.8 L360.7 439.9 L361.7 439.9 L362.8 440.0 L363.9 440.1 L365.0 440.1 L366.0 440.2" fill="none" stroke="#8cc63f" stroke-width="1.80" stroke-dasharray="30 0" opacity="1.00"/><path d="M367.1 440.2 L368.2 440.3 L369.3 440.3 L370.3 440.4 L371.4 440.4 L372.5 440.5 L373.6 440.5 L374.7 440.5 L375.7 440.6 L376.8 440.6 L377.9 440.6 L379.0 440.7 L380.1 440.7 L381.2 440.7 L382.2 440.7 L383.3 440.7 L384.4 440.8 L385.5 440.8 L386.6 440.8 L387.7 440.8 L388.8 440.8 L389.8 440.8 L390.9 440.8 L392.0 440.8 L393.1 440.8 L394.2 440.8 L395.3 440.8 L396.4 440.8 L397.5 440.7 L398.6 440.7 L399.6 440.7 L400.7 440.7 L401.8 440.6 L402.9 440.6 L404.0 440.6 L405.1 440.6 L406.2 440.5 L407.3 440.5 L408.4 440.4 L409.4 440.4 L410.5 440.3 L411.6 440.3 L412.7 440.2 L413.8 440.2 L414.9 440.1 L416.0 440.0 L417.1 440.0 L418.2 439.9 L419.2 439.8 L420.3 439.8 L421.4 439.7 L422.5 439.6 L423.6 439.5 L424.7 439.4 L425.8 439.3 L426.8 439.2 L427.9 439.2 L429.0 439.1 L430.1 438.9 L431.2 438.8 L432.3 438.7 L433.4 438.6 L434.4 438.5 L435.5 438.4 L436.6 438.3 L437.7 438.1 L438.8 438.0" fill="none" stroke="#8cc63f" stroke-width="1.60" stroke-dasharray="2.2 1.6" opacity="1.00"/><path d="M439.8 437.9 L440.9 437.7 L442.0 437.6 L443.1 437.5 L444.2 437.3 L445.2 437.2 L446.3 437.0 L447.4 436.9 L448.5 436.7 L449.6 436.6 L450.6 436.4 L451.7 436.2 L452.8 436.1 L453.9 435.9 L454.9 435.7 L456.0 435.5 L457.1 435.3 L458.1 435.1 L459.2 435.0 L460.3 434.8 L461.3 434.6 L462.4 434.4 L463.5 434.2 L464.5 434.0 L465.6 433.7 L466.7 433.5 L467.7 433.3 L468.8 433.1 L469.9 432.9 L470.9 432.6 L472.0 432.4 L473.0 432.2 L474.1 431.9 L475.1 431.7 L476.2 431.4 L477.3 431.2 L478.3 430.9 L479.4 430.7 L480.4 430.4 L481.5 430.2 L482.5 429.9 L483.6 429.6 L484.6 429.3 L485.7 429.1 L486.7 428.8 L487.7 428.5 L488.8 428.2 L489.8 427.9 L490.9 427.6 L491.9 427.3 L492.9 427.0 L494.0 426.7 L495.0 426.4 L496.0 426.1 L497.1 425.8 L498.1 425.5 L499.1 425.1 L500.2 424.8 L501.2 424.5 L502.2 424.1 L503.2 423.8 L504.3 423.5 L505.3 423.1 L506.3 422.8 L507.3 422.4 L508.3 422.1 L509.4 421.7 L510.4 421.3 L511.4 421.0 L512.4 420.6 L513.4 420.2 L514.4 419.8 L515.4 419.5 L516.4 419.1 L517.4 418.7 L518.4 418.3 L519.4 417.9 L520.4 417.5 L521.4 417.1 L522.4 416.7 L523.4 416.3 L524.4 415.9 L525.4 415.4 L526.4 415.0 L527.4 414.6 L528.4 414.2 L529.4 413.7 L530.3 413.3 L531.3 412.8 L532.3 412.4 L533.3 412.0 L534.3 411.5 L535.2 411.1 L536.2 410.6 L537.2 410.1 L538.1 409.7 L539.1 409.2 L540.1 408.7" fill="none" stroke="#8cc63f" stroke-width="2.00" stroke-dasharray="9 0.5" opacity="1.00"/><path d="M541.0 408.3 L542.0 407.8 L543.0 407.3 L543.9 406.8 L544.9 406.3 L545.8 405.8 L546.8 405.3 L547.7 404.8 L548.7 404.3 L549.6 403.8 L550.6 403.3 L551.5 402.8 L552.5 402.3 L553.4 401.7 L554.4 401.2 L555.3 400.7 L556.2 400.1 L557.2 399.6 L558.1 399.1 L559.0 398.5 L559.9 398.0 L560.9 397.4 L561.8 396.9 L562.7 396.3 L563.6 395.8 L564.5 395.2 L565.5 394.6 L566.4 394.1 L567.3 393.5 L568.2 392.9 L569.1 392.3 L570.0 391.7 L570.9 391.1 L571.8 390.6 L572.7 390.0 L573.6 389.4 L574.5 388.8 L575.4 388.2 L576.3 387.5 L577.2 386.9 L578.0 386.3 L578.9 385.7 L579.8 385.1 L580.7 384.5 L581.6 383.8 L582.4 383.2 L583.3 382.6 L584.2 381.9 L585.0 381.3 L585.9 380.6 L586.8 380.0 L587.6 379.3 L588.5 378.7 L589.3 378.0 L590.2 377.4 L591.0 376.7 L591.9 376.0 L592.7 375.3 L593.6 374.7 L594.4 374.0 L595.3 373.3 L596.1 372.6 L596.9 371.9 L597.8 371.3 L598.6 370.6 L599.4 369.9 L600.3 369.2 L601.1 368.5 L601.9 367.8 L602.7 367.0 L603.5 366.3 L604.4 365.6 L605.2 364.9 L606.0 364.2 L606.8 363.5 L607.6 362.7 L608.4 362.0 L609.2 361.3 L610.0 360.5 L610.8 359.8 L611.6 359.1 L612.4 358.3 L613.1 357.6 L613.9 356.8 L614.7 356.1 L615.5 355.3 L616.3 354.5 L617.0 353.8 L617.8 353.0 L618.6 352.3 L619.4 351.5 L620.1 350.7 L620.9 349.9 L621.6 349.2 L622.4 348.4 L623.2 347.6 L623.9 346.8 L624.7 346.0 L625.4 345.2 L626.1 344.4 L626.9 343.6 L627.6 342.8 L628.4 342.0 L629.1 341.2 L629.8 340.4 L630.6 339.6 L631.3 338.8 L632.0 338.0 L632.7 337.2 L633.4 336.4 L634.2 335.6 L634.9 334.7 L635.6 333.9 L636.3 333.1 L637.0 332.2 L637.7 331.4 L638.4 330.6 L639.1 329.7 L639.8 328.9 L640.5 328.1 L641.2 327.2 L641.9 326.4 L642.5 325.5 L643.2 324.7 L643.9 323.8 L644.6 323.0 L645.2 322.1 L645.9 321.2 L646.6 320.4 L647.3 319.5 L647.9 318.7 L648.6 317.8 L649.2 316.9 L649.9 316.1 L650.5 315.2 L651.2 314.3 L651.8 313.4 L652.5 312.6 L653.1 311.7 L653.8 310.8 L654.4 309.9 L655.0 309.0 L655.6 308.1 L656.3 307.3 L656.9 306.4 L657.5 305.5 L658.1 304.6 L658.8 303.7 L659.4 302.8 L660.0 301.9 L660.6 301.0 L661.2 300.1 L661.8 299.2 L662.4 298.3 L663.0 297.4 L663.6 296.5 L664.2 295.6 L664.8 294.6 L665.3 293.7 L665.9 292.8 L666.5 291.9 L667.1 291.0 L667.7 290.1 L668.2 289.2 L668.8 288.2 L669.4 287.3 L669.9 286.4 L670.5 285.5 L671.0 284.6 L671.6 283.6 L672.2 282.7 L672.7 281.8 L673.2 280.9 L673.8 279.9 L674.3 279.0 L674.9 278.1 L675.4 277.1 L675.9 276.2 L676.5 275.3 L677.0 274.3 L677.5 273.4 L678.0 272.5 L678.6 271.5 L679.1 270.6 L679.6 269.7 L680.1 268.7 L680.6 267.8 L681.1 266.8 L681.6 265.9 L682.1 265.0 L682.6 264.0 L683.1 263.1 L683.6 262.1 L684.1 261.2 L684.5 260.3 L685.0 259.3 L685.5 258.4 L686.0 257.4 L686.5 256.5 L686.9 255.6" fill="none" stroke="#8cc63f" stroke-width="2.00" stroke-dasharray="9 0.5" opacity="1.00"/>
<path d="M432.0 175.8 L432.5 175.6 L433.0 175.4 L433.6 175.2 L434.1 175.0 L434.6 174.8 L435.2 174.7 L435.7 174.5 L436.3 174.3 L436.8 174.1 L437.3 173.9 L437.9 173.8 L438.4 173.6 L438.9 173.4 L439.5 173.2 L440.0 173.1 L440.6 172.9 L441.1 172.7 L441.7 172.5 L442.2 172.4 L442.7 172.2 L443.3 172.0 L443.8 171.8 L444.4 171.7 L444.9 171.5 L445.5 171.3 L446.0 171.2 L446.5 171.0 L447.1 170.8 L447.6 170.7 L448.2 170.5 L448.7 170.4 L449.3 170.2 L449.8 170.0 L450.4 169.9 L450.9 169.7 L451.5 169.6 L452.0 169.4 L452.6 169.3 L453.1 169.1 L453.7 168.9 L454.2 168.8 L454.8 168.6 L455.3 168.5 L455.9 168.3 L456.4 168.2 L457.0 168.0 L457.5 167.9 L458.1 167.8 L458.6 167.6 L459.2 167.5 L459.7 167.3 L460.3 167.2 L460.9 167.0 L461.4 166.9 L462.0 166.8 L462.5 166.6 L463.1 166.5 L463.6 166.3 L464.2 166.2 L464.7 166.1 L465.3 165.9 L465.9 165.8 L466.4 165.7 L467.0 165.6 L467.5 165.4 L468.1 165.3 L468.7 165.2 L469.2 165.1 L469.8 164.9 L470.3 164.8 L470.9 164.7 L471.5 164.6 L472.0 164.4 L472.6 164.3 L473.1 164.2 L473.7 164.1 L474.3 164.0 L474.8 163.9 L475.4 163.8 L475.9 163.6 L476.5 163.5 L477.1 163.4 L477.6 163.3 L478.2 163.2 L478.8 163.1 L479.3 163.0 L479.9 162.9 L480.5 162.8 L481.0 162.7 L481.6 162.6 L482.2 162.5 L482.7 162.4 L483.3 162.3 L483.8 162.2 L484.4 162.1 L485.0 162.0 L485.5 162.0 L486.1 161.9 L486.7 161.8 L487.2 161.7 L487.8 161.6 L488.4 161.5 L489.0 161.4 L489.5 161.4 L490.1 161.3 L490.7 161.2 L491.2 161.1 L491.8 161.1 L492.4 161.0 L492.9 160.9 L493.5 160.8 L494.1 160.8 L494.6 160.7 L495.2 160.6 L495.8 160.6 L496.3 160.5 L496.9 160.4 L497.5 160.4 L498.1 160.3 L498.6 160.3 L499.2 160.2 L499.8 160.1 L500.3 160.1 L500.9 160.0 L501.5 160.0 L502.1 159.9 L502.6 159.9 L503.2 159.8 L503.8 159.8 L504.3 159.7 L504.9 159.7 L505.5 159.7 L506.1 159.6 L506.6 159.6 L507.2 159.5 L507.8 159.5 L508.3 159.5 L508.9 159.4 L509.5 159.4 L510.1 159.4 L510.6 159.3 L511.2 159.3 L511.8 159.3 L512.4 159.3 L512.9 159.2 L513.5 159.2 L514.1 159.2 L514.6 159.2 L515.2 159.2 L515.8 159.1 L516.4 159.1 L516.9 159.1 L517.5 159.1 L518.1 159.1 L518.7 159.1 L519.2 159.1 L519.8 159.1 L520.4 159.1 L520.9 159.1 L521.5 159.1 L522.1 159.1 L522.7 159.1 L523.2 159.1 L523.8 159.1 L524.4 159.1 L524.9 159.1 L525.5 159.1 L526.1 159.1 L526.7 159.1 L527.2 159.2 L527.8 159.2 L528.4 159.2 L529.0 159.2 L529.5 159.2 L530.1 159.3 L530.7 159.3 L531.2 159.3 L531.8 159.3 L532.4 159.4 L533.0 159.4 L533.5 159.4 L534.1 159.5 L534.7 159.5 L535.2 159.5 L535.8 159.6 L536.4 159.6 L537.0 159.7 L537.5 159.7 L538.1 159.8 L538.7 159.8 L539.2 159.8 L539.8 159.9 L540.4 160.0 L540.9 160.0 L541.5 160.1 L542.1 160.1 L542.6 160.2 L543.2 160.2 L543.8 160.3 L544.4 160.4 L544.9 160.4 L545.5 160.5 L546.1 160.6 L546.6 160.6 L547.2 160.7 L547.8 160.8 L548.3 160.9 L548.9 160.9 L549.5 161.0 L550.0 161.1 L550.6 161.2 L551.2 161.3 L551.7 161.3 L552.3 161.4 L552.8 161.5 L553.4 161.6 L554.0 161.7 L554.5 161.8 L555.1 161.9 L555.7 162.0 L556.2 162.1 L556.8 162.2 L557.4 162.3 L557.9 162.4 L558.5 162.5 L559.0 162.6 L559.6 162.7 L560.2 162.8 L560.7 162.9 L561.3 163.1 L561.8 163.2 L562.4 163.3 L563.0 163.4 L563.5 163.5 L564.1 163.7 L564.6 163.8 L565.2 163.9 L565.7 164.0 L566.3 164.2 L566.9 164.3 L567.4 164.4 L568.0 164.6 L568.5 164.7 L569.1 164.8 L569.6 165.0 L570.2 165.1 L570.7 165.3 L571.3 165.4 L571.8 165.6 L572.4 165.7 L572.9 165.9 L573.5 166.0 L574.0 166.2 L574.6 166.3 L575.1 166.5 L575.7 166.6 L576.2 166.8 L576.8 167.0 L577.3 167.1 L577.9 167.3 L578.4 167.5 L579.0 167.6 L579.5 167.8 L580.1 168.0 L580.6 168.1 L581.2 168.3 L581.7 168.5 L582.2 168.7 L582.8 168.9 L583.3 169.0 L583.9 169.2 L584.4 169.4 L584.9 169.6 L585.5 169.8 L586.0 170.0 L586.6 170.2 L587.1 170.4 L587.6 170.6 L588.2 170.8 L588.7 171.0 L589.2 171.2 L589.8 171.4 L590.3 171.6 L590.8 171.8 L591.4 172.0 L591.9 172.2 L592.4 172.4 L593.0 172.6 L593.5 172.9 L594.0 173.1 L594.5 173.3 L595.1 173.5 L595.6 173.7 L596.1 174.0 L596.7 174.2 L597.2 174.4 L597.7 174.7 L598.2 174.9 L598.7 175.1 L599.3 175.4 L599.8 175.6 L600.3 175.8 L600.8 176.1 L601.3 176.3 L601.9 176.6 L602.4 176.8 L602.9 177.1 L603.4 177.3 L603.9 177.6 L604.4 177.8 L604.9 178.1 L605.5 178.3 L606.0 178.6 L606.5 178.8 L607.0 179.1 L607.5 179.4 L608.0 179.6 L608.5 179.9 L609.0 180.2 L609.5 180.4 L610.0 180.7 L610.5 181.0 L611.0 181.3 L611.5 181.5 L612.0 181.8 L612.5 182.1 L613.0 182.4 L613.5 182.7 L614.0 182.9 L614.5 183.2 L615.0 183.5 L615.5 183.8 L616.0 184.1 L616.5 184.4 L617.0 184.7 L617.5 185.0 L618.0 185.3 L618.4 185.6 L618.9 185.9 L619.4 186.2 L619.9 186.5 L620.4 186.8 L620.9 187.1 L621.3 187.4 L621.8 187.7 L622.3 188.1 L622.8 188.4 L623.3 188.7 L623.7 189.0 L624.2 189.3 L624.7 189.7 L625.2 190.0 L625.6 190.3 L626.1 190.6 L626.6 191.0 L627.0 191.3 L627.5 191.6 L628.0 192.0 L628.4 192.3 L628.9 192.6 L629.4 193.0 L629.8 193.3 L630.3 193.7 L630.7 194.0 L631.2 194.3 L631.7 194.7 L632.1 195.0 L632.6 195.4 L633.0 195.8 L633.5 196.1 L633.9 196.5" fill="none" stroke="#8cc63f" stroke-width="1.20" stroke-dasharray="3.3 2.3" opacity="1.00"/><path d="M634.4 196.8 L634.8 197.2 L635.3 197.5 L635.7 197.9 L636.1 198.3 L636.6 198.6 L637.0 199.0 L637.5 199.4 L637.9 199.7 L638.3 200.1 L638.8 200.5 L639.2 200.9 L639.7 201.2 L640.1 201.6 L640.5 202.0 L640.9 202.4 L641.4 202.8 L641.8 203.1 L642.2 203.5 L642.6 203.9 L643.1 204.3 L643.5 204.7 L643.9 205.1 L644.3 205.5 L644.7 205.9 L645.2 206.3 L645.6 206.7 L646.0 207.1" fill="none" stroke="#8cc63f" stroke-width="2.60" stroke-dasharray="3.5 1" opacity="1.00"/>
<rect x="139.0" y="304.0" width="30.0" height="35.0" fill="#000"/><path d="M142.3 307.3 L156.2 307.3 L165.7 316.8 L165.7 335.7 L142.3 335.7 Z" fill="none" stroke="#8cc63f" stroke-width="2.6" stroke-linejoin="round"/><path d="M156.2 307.3 L156.2 316.8 L165.7 316.8" fill="none" stroke="#8cc63f" stroke-width="2.1"/><circle cx="154" cy="322" r="7.8" fill="none" stroke="#8cc63f" stroke-width="2.4"/><path d="M151 317.5 L151 326.5 L159 322Z" fill="#8cc63f"/>
<rect x="352.0" y="308.0" width="30.0" height="35.0" fill="#000"/><path d="M355.3 311.3 L369.2 311.3 L378.7 320.8 L378.7 339.7 L355.3 339.7 Z" fill="none" stroke="#8cc63f" stroke-width="2.6" stroke-linejoin="round"/><path d="M369.2 311.3 L369.2 320.8 L378.7 320.8" fill="none" stroke="#8cc63f" stroke-width="2.1"/><circle cx="361" cy="322.5" r="2.6" fill="#8cc63f"/><path d="M358.5 333 L363 327.5 L365 330 L369.5 323.5 L375.5 333" fill="none" stroke="#8cc63f" stroke-width="1.5"/>
<rect x="524.0" y="391.0" width="31.0" height="36.0" fill="#000"/><path d="M527.5 394.5 L541.5 394.5 L551.5 404.5 L551.5 423.5 L527.5 423.5 Z" fill="none" stroke="#8cc63f" stroke-width="3.0" stroke-linejoin="round"/><path d="M541.5 394.5 L541.5 404.5 L551.5 404.5" fill="none" stroke="#8cc63f" stroke-width="2.4"/><rect x="532.2" y="400.0" width="7.6" height="2.5" fill="#8cc63f"/><rect x="532.2" y="405.0" width="7.6" height="2.5" fill="#8cc63f"/><rect x="532.2" y="411.2" width="15.6" height="2.5" fill="#8cc63f"/><rect x="532.2" y="416.2" width="15.6" height="2.5" fill="#8cc63f"/>
<g fill="#a3a3a3"><rect x="207" y="175.5" width="29" height="5"/><rect x="208.5" y="161.5" width="6.5" height="14"/><rect x="209.5" y="157.5" width="4.5" height="4.5"/><rect x="211" y="154" width="1.6" height="4"/><path d="M221.7 151.5 L225.2 156.5 L224 180 L220 180 L218.3 156.5Z"/><path d="M228.5 164 Q231.5 160 234.5 164 L234.5 175.5 L228.5 175.5Z"/><rect x="230.6" y="156" width="1.8" height="6"/></g>
<g fill="#8f8f8f"><path d="M382.5 145 L386.5 149 L386.5 153 L385 155 L386 161.5 L378.5 161.5 L380.5 155 L379.5 153 L379.5 149Z"/><rect x="377" y="163.8" width="11" height="2.4"/><rect x="376" y="168.3" width="5" height="2.2"/><rect x="384.5" y="168.3" width="5" height="2.2"/><path d="M374.5 172.2 L390.5 172.2 L395 181 L388 181 A4.5 4.5 0 0 0 377.5 181 L369 181Z"/></g>
<g fill="#a2a2a2"><path d="M676 186 L682 187.2 L695 187.6 L708 187.2 L714 186 L713 188.6 L709.5 192.8 L680.5 192.8 L677 188.6Z"/><rect x="685" y="192" width="21" height="5.5"/><rect x="683" y="197.2" width="26" height="5.3"/><rect x="685" y="192" width="5.5" height="22.5"/><rect x="700" y="192" width="6" height="22.5"/><rect x="690" y="195" width="2.5" height="1.5" fill="#333"/><rect x="697" y="195" width="3" height="1.5" fill="#333"/></g>
<g fill="#a5a5a5"><rect x="255.3" y="381.5" width="1.8" height="9"/><rect x="253" y="383.5" width="6.5" height="1.8"/><path d="M256.2 389 L261.7 395.5 L261.7 398 L270 402.5 L267 403 L267 411.5 L258 411.5 L258 406 L254 406 L254 410 L246.5 410 L246.5 402.5 L244 402 L250.8 397.5 L250.8 395.5Z"/><circle cx="256.2" cy="398.2" r="2.2" fill="#dcdedd"/></g>
<polygon points="184.7,180.7 258.2,180.7 281.0,190.4 160.5,190.4" fill="url(#tf)"/><rect x="152.0" y="190.0" width="138.4" height="23.7" fill="#151515"/><rect x="152.0" y="190.6" width="8.6" height="9.6" fill="#2d2d2d"/><rect x="152.0" y="203.2" width="8.6" height="10.2" fill="#242424"/><rect x="281.8" y="190.6" width="8.6" height="9.6" fill="#2d2d2d"/><rect x="281.8" y="203.2" width="8.6" height="10.2" fill="#242424"/><rect x="152.4" y="203.7" width="5.4" height="2" fill="#74c62a"/><rect x="284.2" y="203.7" width="5.4" height="2" fill="#74c62a"/><rect x="285.2" y="192.6" width="3.6" height="5.6" fill="#454545"/><rect x="161.0" y="213.2" width="120" height="1" fill="#6a6a6a"/><rect x="162.00" y="191.00" width="29.00" height="6.50" fill="#232323"/><rect x="163.10" y="192.10" width="2.4" height="4.29" rx="0.8" fill="#74c62a"/><rect x="170.40" y="191.50" width="19.60" height="5.50" fill="#434343"/><rect x="174.60" y="192.95" width="9.50" height="2.60" fill="#171717"/><rect x="162.00" y="199.00" width="29.00" height="6.20" fill="#232323"/><rect x="163.10" y="200.05" width="2.4" height="4.09" rx="0.8" fill="#74c62a"/><rect x="170.40" y="199.50" width="19.60" height="5.20" fill="#434343"/><rect x="174.60" y="200.86" width="9.50" height="2.48" fill="#171717"/><rect x="162.00" y="206.60" width="29.00" height="6.20" fill="#232323"/><rect x="163.10" y="207.65" width="2.4" height="4.09" rx="0.8" fill="#74c62a"/><rect x="170.40" y="207.10" width="19.60" height="5.20" fill="#434343"/><rect x="174.60" y="208.46" width="9.50" height="2.48" fill="#171717"/><rect x="192.30" y="191.00" width="29.00" height="6.50" fill="#232323"/><rect x="193.40" y="192.10" width="2.4" height="4.29" rx="0.8" fill="#74c62a"/><rect x="200.70" y="191.50" width="19.60" height="5.50" fill="#434343"/><rect x="204.90" y="192.95" width="9.50" height="2.60" fill="#171717"/><rect x="192.30" y="199.00" width="29.00" height="6.20" fill="#232323"/><rect x="193.40" y="200.05" width="2.4" height="4.09" rx="0.8" fill="#74c62a"/><rect x="200.70" y="199.50" width="19.60" height="5.20" fill="#434343"/><rect x="204.90" y="200.86" width="9.50" height="2.48" fill="#171717"/><rect x="192.30" y="206.60" width="29.00" height="6.20" fill="#232323"/><rect x="193.40" y="207.65" width="2.4" height="4.09" rx="0.8" fill="#74c62a"/><rect x="200.70" y="207.10" width="19.60" height="5.20" fill="#434343"/><rect x="204.90" y="208.46" width="9.50" height="2.48" fill="#171717"/><rect x="221.50" y="191.00" width="29.00" height="6.50" fill="#232323"/><rect x="222.60" y="192.10" width="2.4" height="4.29" rx="0.8" fill="#74c62a"/><rect x="229.90" y="191.50" width="19.60" height="5.50" fill="#434343"/><rect x="234.10" y="192.95" width="9.50" height="2.60" fill="#171717"/><rect x="221.50" y="199.00" width="29.00" height="6.20" fill="#232323"/><rect x="222.60" y="200.05" width="2.4" height="4.09" rx="0.8" fill="#74c62a"/><rect x="229.90" y="199.50" width="19.60" height="5.20" fill="#434343"/><rect x="234.10" y="200.86" width="9.50" height="2.48" fill="#171717"/><rect x="221.50" y="206.60" width="29.00" height="6.20" fill="#232323"/><rect x="222.60" y="207.65" width="2.4" height="4.09" rx="0.8" fill="#74c62a"/><rect x="229.90" y="207.10" width="19.60" height="5.20" fill="#434343"/><rect x="234.10" y="208.46" width="9.50" height="2.48" fill="#171717"/><rect x="251.70" y="191.00" width="29.00" height="6.50" fill="#232323"/><rect x="252.80" y="192.10" width="2.4" height="4.29" rx="0.8" fill="#74c62a"/><rect x="260.10" y="191.50" width="19.60" height="5.50" fill="#434343"/><rect x="264.30" y="192.95" width="9.50" height="2.60" fill="#171717"/><rect x="251.70" y="199.00" width="29.00" height="6.20" fill="#232323"/><rect x="252.80" y="200.05" width="2.4" height="4.09" rx="0.8" fill="#74c62a"/><rect x="260.10" y="199.50" width="19.60" height="5.20" fill="#434343"/><rect x="264.30" y="200.86" width="9.50" height="2.48" fill="#171717"/><rect x="251.70" y="206.60" width="29.00" height="6.20" fill="#232323"/><rect x="252.80" y="207.65" width="2.4" height="4.09" rx="0.8" fill="#74c62a"/><rect x="260.10" y="207.10" width="19.60" height="5.20" fill="#434343"/><rect x="264.30" y="208.46" width="9.50" height="2.48" fill="#171717"/>
<polygon points="347.2,191.0 427.7,191.0 445.6,201.6 322.8,201.6" fill="url(#tf)"/><rect x="314.0" y="201.2" width="138.8" height="12.5" fill="#151515"/><rect x="314.0" y="201.6" width="8" height="11.9" fill="#202020"/><rect x="444.8" y="201.6" width="8" height="11.9" fill="#202020"/><rect x="315.0" y="203.5" width="5.6" height="2.4" fill="#74c62a"/><rect x="446.6" y="203.5" width="5.2" height="2.2" fill="#74c62a"/><rect x="365.9" y="201.9" width="3.6" height="3" fill="#74c62a"/><rect x="395.1" y="201.9" width="3.6" height="3" fill="#74c62a"/><rect x="325.9" y="203.0" width="4.4" height="1" fill="#555"/><rect x="324.60" y="205.50" width="29.00" height="7.10" fill="#232323"/><rect x="325.70" y="206.71" width="2.4" height="4.69" rx="0.8" fill="#74c62a"/><rect x="333.00" y="206.00" width="19.60" height="6.10" fill="#434343"/><rect x="337.20" y="207.63" width="9.50" height="2.84" fill="#171717"/><rect x="354.40" y="205.50" width="29.00" height="7.10" fill="#232323"/><rect x="355.50" y="206.71" width="2.4" height="4.69" rx="0.8" fill="#74c62a"/><rect x="362.80" y="206.00" width="19.60" height="6.10" fill="#434343"/><rect x="367.00" y="207.63" width="9.50" height="2.84" fill="#171717"/><rect x="384.10" y="205.50" width="29.00" height="7.10" fill="#232323"/><rect x="385.20" y="206.71" width="2.4" height="4.69" rx="0.8" fill="#74c62a"/><rect x="392.50" y="206.00" width="19.60" height="6.10" fill="#434343"/><rect x="396.70" y="207.63" width="9.50" height="2.84" fill="#171717"/><rect x="413.80" y="205.50" width="29.00" height="7.10" fill="#232323"/><rect x="414.90" y="206.71" width="2.4" height="4.69" rx="0.8" fill="#74c62a"/><rect x="422.20" y="206.00" width="19.60" height="6.10" fill="#434343"/><rect x="426.40" y="207.63" width="9.50" height="2.84" fill="#171717"/>
<polygon points="658.2,214.8 731.7,214.8 754.5,224.5 634.0,224.5" fill="url(#tf)"/><rect x="625.5" y="224.1" width="138.4" height="23.7" fill="#151515"/><rect x="625.5" y="224.7" width="8.6" height="9.6" fill="#2d2d2d"/><rect x="625.5" y="237.3" width="8.6" height="10.2" fill="#242424"/><rect x="755.3" y="224.7" width="8.6" height="9.6" fill="#2d2d2d"/><rect x="755.3" y="237.3" width="8.6" height="10.2" fill="#242424"/><rect x="625.9" y="237.8" width="5.4" height="2" fill="#74c62a"/><rect x="757.7" y="237.8" width="5.4" height="2" fill="#74c62a"/><rect x="758.7" y="226.7" width="3.6" height="5.6" fill="#454545"/><rect x="634.5" y="247.3" width="120" height="1" fill="#6a6a6a"/><rect x="635.50" y="225.10" width="29.00" height="6.50" fill="#232323"/><rect x="636.60" y="226.20" width="2.4" height="4.29" rx="0.8" fill="#74c62a"/><rect x="643.90" y="225.60" width="19.60" height="5.50" fill="#434343"/><rect x="648.10" y="227.05" width="9.50" height="2.60" fill="#171717"/><rect x="635.50" y="233.10" width="29.00" height="6.20" fill="#232323"/><rect x="636.60" y="234.15" width="2.4" height="4.09" rx="0.8" fill="#74c62a"/><rect x="643.90" y="233.60" width="19.60" height="5.20" fill="#434343"/><rect x="648.10" y="234.96" width="9.50" height="2.48" fill="#171717"/><rect x="635.50" y="240.70" width="29.00" height="6.20" fill="#232323"/><rect x="636.60" y="241.75" width="2.4" height="4.09" rx="0.8" fill="#74c62a"/><rect x="643.90" y="241.20" width="19.60" height="5.20" fill="#434343"/><rect x="648.10" y="242.56" width="9.50" height="2.48" fill="#171717"/><rect x="665.80" y="225.10" width="29.00" height="6.50" fill="#232323"/><rect x="666.90" y="226.20" width="2.4" height="4.29" rx="0.8" fill="#74c62a"/><rect x="674.20" y="225.60" width="19.60" height="5.50" fill="#434343"/><rect x="678.40" y="227.05" width="9.50" height="2.60" fill="#171717"/><rect x="665.80" y="233.10" width="29.00" height="6.20" fill="#232323"/><rect x="666.90" y="234.15" width="2.4" height="4.09" rx="0.8" fill="#74c62a"/><rect x="674.20" y="233.60" width="19.60" height="5.20" fill="#434343"/><rect x="678.40" y="234.96" width="9.50" height="2.48" fill="#171717"/><rect x="665.80" y="240.70" width="29.00" height="6.20" fill="#232323"/><rect x="666.90" y="241.75" width="2.4" height="4.09" rx="0.8" fill="#74c62a"/><rect x="674.20" y="241.20" width="19.60" height="5.20" fill="#434343"/><rect x="678.40" y="242.56" width="9.50" height="2.48" fill="#171717"/><rect x="695.00" y="225.10" width="29.00" height="6.50" fill="#232323"/><rect x="696.10" y="226.20" width="2.4" height="4.29" rx="0.8" fill="#74c62a"/><rect x="703.40" y="225.60" width="19.60" height="5.50" fill="#434343"/><rect x="707.60" y="227.05" width="9.50" height="2.60" fill="#171717"/><rect x="695.00" y="233.10" width="29.00" height="6.20" fill="#232323"/><rect x="696.10" y="234.15" width="2.4" height="4.09" rx="0.8" fill="#74c62a"/><rect x="703.40" y="233.60" width="19.60" height="5.20" fill="#434343"/><rect x="707.60" y="234.96" width="9.50" height="2.48" fill="#171717"/><rect x="695.00" y="240.70" width="29.00" height="6.20" fill="#232323"/><rect x="696.10" y="241.75" width="2.4" height="4.09" rx="0.8" fill="#74c62a"/><rect x="703.40" y="241.20" width="19.60" height="5.20" fill="#434343"/><rect x="707.60" y="242.56" width="9.50" height="2.48" fill="#171717"/><rect x="725.20" y="225.10" width="29.00" height="6.50" fill="#232323"/><rect x="726.30" y="226.20" width="2.4" height="4.29" rx="0.8" fill="#74c62a"/><rect x="733.60" y="225.60" width="19.60" height="5.50" fill="#434343"/><rect x="737.80" y="227.05" width="9.50" height="2.60" fill="#171717"/><rect x="725.20" y="233.10" width="29.00" height="6.20" fill="#232323"/><rect x="726.30" y="234.15" width="2.4" height="4.09" rx="0.8" fill="#74c62a"/><rect x="733.60" y="233.60" width="19.60" height="5.20" fill="#434343"/><rect x="737.80" y="234.96" width="9.50" height="2.48" fill="#171717"/><rect x="725.20" y="240.70" width="29.00" height="6.20" fill="#232323"/><rect x="726.30" y="241.75" width="2.4" height="4.09" rx="0.8" fill="#74c62a"/><rect x="733.60" y="241.20" width="19.60" height="5.20" fill="#434343"/><rect x="737.80" y="242.56" width="9.50" height="2.48" fill="#171717"/>
<polygon points="220.2,422.0 300.7,422.0 318.6,431.5 195.8,431.5" fill="url(#tf)"/><rect x="187.0" y="431.1" width="138.8" height="12.5" fill="#151515"/><rect x="187.0" y="431.5" width="8" height="11.9" fill="#202020"/><rect x="317.8" y="431.5" width="8" height="11.9" fill="#202020"/><rect x="188.0" y="433.4" width="5.6" height="2.4" fill="#74c62a"/><rect x="319.6" y="433.4" width="5.2" height="2.2" fill="#74c62a"/><rect x="238.9" y="431.8" width="3.6" height="3" fill="#74c62a"/><rect x="268.1" y="431.8" width="3.6" height="3" fill="#74c62a"/><rect x="198.9" y="432.9" width="4.4" height="1" fill="#555"/><rect x="197.60" y="435.40" width="29.00" height="7.10" fill="#232323"/><rect x="198.70" y="436.61" width="2.4" height="4.69" rx="0.8" fill="#74c62a"/><rect x="206.00" y="435.90" width="19.60" height="6.10" fill="#434343"/><rect x="210.20" y="437.53" width="9.50" height="2.84" fill="#171717"/><rect x="227.40" y="435.40" width="29.00" height="7.10" fill="#232323"/><rect x="228.50" y="436.61" width="2.4" height="4.69" rx="0.8" fill="#74c62a"/><rect x="235.80" y="435.90" width="19.60" height="6.10" fill="#434343"/><rect x="240.00" y="437.53" width="9.50" height="2.84" fill="#171717"/><rect x="257.10" y="435.40" width="29.00" height="7.10" fill="#232323"/><rect x="258.20" y="436.61" width="2.4" height="4.69" rx="0.8" fill="#74c62a"/><rect x="265.50" y="435.90" width="19.60" height="6.10" fill="#434343"/><rect x="269.70" y="437.53" width="9.50" height="2.84" fill="#171717"/><rect x="286.80" y="435.40" width="29.00" height="7.10" fill="#232323"/><rect x="287.90" y="436.61" width="2.4" height="4.69" rx="0.8" fill="#74c62a"/><rect x="295.20" y="435.90" width="19.60" height="6.10" fill="#434343"/><rect x="299.40" y="437.53" width="9.50" height="2.84" fill="#171717"/>
</g>
</svg>
</body></html>
